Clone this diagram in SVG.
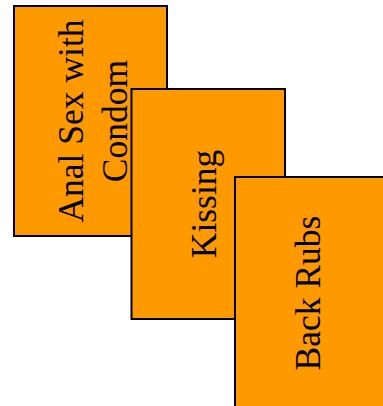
<svg xmlns="http://www.w3.org/2000/svg" width="383" height="406" viewBox="0 0 383 406">
<style>
.box{fill:#FF9900;stroke:#000;stroke-width:2}
.lbl{font-family:"Liberation Serif",serif;font-size:35.5px;fill:#000;text-anchor:middle}
</style>
<rect width="383" height="406" fill="#fff"/>
<g id="node-anal">
<rect class="box" x="14" y="6" width="153" height="230"/>
<text class="lbl" transform="translate(83,121) rotate(-90)">Anal Sex with</text>
<text class="lbl" transform="translate(127,121) rotate(-90)">Condom</text>
</g>
<g id="node-kissing">
<rect class="box" x="131.5" y="89" width="153.5" height="230"/>
<text class="lbl" transform="translate(216,204) rotate(-90)">Kissing</text>
</g>
<g id="node-backrubs">
<rect class="box" x="235" y="177" width="153" height="230"/>
<text class="lbl" transform="translate(320,293) rotate(-90)">Back Rubs</text>
</g>
<g id="connectors"></g>
</svg>
